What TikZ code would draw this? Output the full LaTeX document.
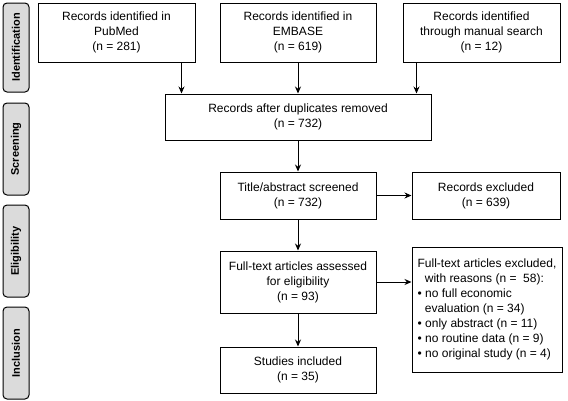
\documentclass[tikz,border=0pt]{standalone}
\usepackage{fontspec}
\setmainfont{Liberation Sans}
\usepackage{tikz}
\usetikzlibrary{arrows.meta}

\begin{document}
\begin{tikzpicture}[x=1pt, y=-1pt, >={Stealth[length=7pt, width=6pt]},
  box/.style={draw, line width=1pt, align=center, inner sep=2pt,
    font=\fontsize{12}{15}\selectfont},
  tab/.style={draw, line width=1pt, rounded corners=4pt, fill=black!14,
    minimum width=26pt, inner sep=0pt, font=\fontsize{11}{12}\selectfont\bfseries},
  line/.style={->, line width=1pt}]

\useasboundingbox (0,0) rectangle (568,400);

% Phases on the left

\foreach \t/\y/\h [count=\i] in {Identification/47.5/89, Screening/149/92,
    Eligibility/251/92, Inclusion/353/92}
  \node [tab, minimum height=\h pt] (tab-\i) at (16,\y) {\rotatebox{90}{\t}};

% Boxes

\node [box, minimum width=157pt, minimum height=59pt] (pubmed) at (116.5,32.5)
  {Records identified in\\PubMed\\(n = 281)};
\node [box, minimum width=156pt, minimum height=59pt] (embase) at (298,32.5)
  {Records identified in\\EMBASE\\(n = 619)};
\node [box, minimum width=157pt, minimum height=59pt] (manual) at (481.5,32.5)
  {Records identified\\through manual search\\(n = 12)};

\node [box, minimum width=266pt, minimum height=46pt] (dupl) at (298,117)
  {Records after duplicates removed\\(n = 732)};

\node [box, minimum width=156pt, minimum height=47pt] (screen) at (298,195.5)
  {Title/abstract screened\\(n = 732)};
\node [box, minimum width=148pt, minimum height=47pt] (recexcl) at (486,195.5)
  {Records excluded\\(n = 639)};

\node [box, minimum width=156pt, minimum height=62pt] (fulltext) at (298,282)
  {Full-text articles assessed\\for eligibility\\(n = 93)};
\node [box, minimum width=150pt, minimum height=125pt, align=left] (reasons) at (487,309.5)
  {Full-text articles excluded,\\
   \hspace*{0.6em}with reasons (n = \ 58):\\
   \textbullet\ no full economic\\
   \hspace*{0.6em}evaluation (n = 34)\\
   \textbullet\ only abstract (n = 11)\\
   \textbullet\ no routine data (n = 9)\\
   \textbullet\ no original study (n = 4)};

\node [box, minimum width=156pt, minimum height=46pt] (studies) at (298,370)
  {Studies included\\(n = 35)};

% Arrows

\coordinate (in-1) at ([xshift=17]dupl.north west);
\coordinate (in-3) at ([xshift=-15]dupl.north east);

\draw [line] (pubmed.south -| in-1) -- (in-1);
\draw [line] (embase) -- (dupl);
\draw [line] (manual.south -| in-3) -- (in-3);

\draw [line] (dupl) -- (screen);
\draw [line] (screen) -- (recexcl);
\draw [line] (screen) -- (fulltext);
\draw [line] (fulltext) -- (reasons.west |- fulltext);
\draw [line] (fulltext) -- (studies);

\end{tikzpicture}
\end{document}
